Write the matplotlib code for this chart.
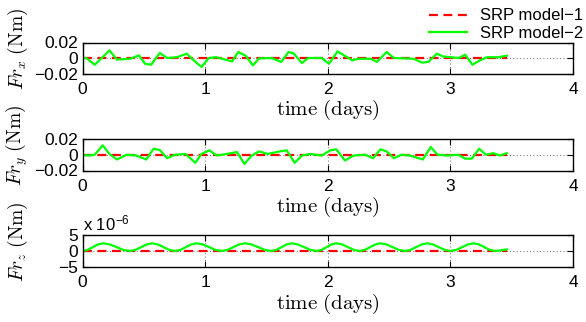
import matplotlib.pyplot as plt
import numpy as np

plt.rcParams['font.family'] = ['Liberation Sans', 'DejaVu Sans']
plt.rcParams['mathtext.fontset'] = 'cm'

# SRP torque components, time in days
t_x = [0.00, 0.03, 0.10, 0.22, 0.28, 0.39, 0.46, 0.51, 0.56, 0.63,
       0.69, 0.77, 0.85, 0.90, 0.97, 1.03, 1.09, 1.22, 1.27, 1.33,
       1.39, 1.44, 1.54, 1.62, 1.68, 1.72, 1.79, 1.84, 1.95, 2.01,
       2.08, 2.20, 2.25, 2.35, 2.40, 2.48, 2.54, 2.70, 2.77, 2.82,
       2.89, 2.94, 3.07, 3.12, 3.18, 3.24, 3.30, 3.39, 3.46]
frx_model2 = [0, 0, -0.0087, 0.0098, -0.002, -0.001, 0.0034, -0.0074, -0.0087, 0.0065,
              0, 0.001, 0.0056, -0.002, -0.0116, 0, 0.001, -0.0044, 0.0077, 0.003,
              -0.0095, -0.0005, 0, -0.005, 0.0077, 0.006, -0.0065, 0, 0, -0.0074,
              0.0085, -0.003, -0.001, -0.001, -0.005, 0.0077, 0, -0.001, -0.006, -0.005,
              0.0056, 0.002, 0, 0.0043, -0.0087, -0.003, 0.001, 0.001, 0.003]
frx_model1 = [0.0] * len(t_x)

t_y = [0.00, 0.05, 0.10, 0.165, 0.22, 0.28, 0.36, 0.44, 0.52, 0.58,
       0.63, 0.69, 0.755, 0.84, 0.92, 0.97, 1.035, 1.095, 1.175, 1.26,
       1.32, 1.38, 1.44, 1.51, 1.61, 1.665, 1.73, 1.79, 1.855, 1.95,
       2.02, 2.07, 2.14, 2.21, 2.305, 2.37, 2.43, 2.48, 2.54, 2.60,
       2.67, 2.775, 2.84, 2.895, 2.97, 3.065, 3.12, 3.175, 3.235, 3.29,
       3.35, 3.405, 3.46]
fry_model2 = [0, -0.001, 0, 0.012, 0.001, -0.006, 0, -0.001, -0.006, 0.0077,
              0.006, -0.0044, 0, 0.001, -0.0103, 0.001, 0.0056, -0.001, 0.001, 0.0034,
              -0.0116, -0.001, 0.0043, 0.001, 0.0043, 0.0056, -0.0103, -0.001, 0.001, -0.001,
              0.0056, 0.0069, -0.0073, -0.001, 0, -0.0044, 0.0069, 0.0043, -0.0044, 0,
              -0.001, -0.006, 0.0098, 0, -0.001, 0, -0.005, -0.005, 0.0077, 0,
              0.002, -0.001, 0.002]
fry_model1 = [0.0] * len(t_y)

# z component in units of 1e-6 Nm
t_z = [0.000, 0.042, 0.084, 0.126, 0.168, 0.223, 0.278, 0.332, 0.387,
       0.432, 0.478, 0.523, 0.568, 0.615, 0.662, 0.708, 0.755,
       0.799, 0.843, 0.886, 0.930, 0.981, 1.033, 1.084, 1.135,
       1.183, 1.230, 1.278, 1.325, 1.379, 1.433, 1.486, 1.540,
       1.581, 1.623, 1.664, 1.705, 1.756, 1.808, 1.859, 1.910,
       1.950, 1.990, 2.030, 2.070, 2.118, 2.165, 2.213, 2.260,
       2.303, 2.345, 2.388, 2.430, 2.480, 2.530, 2.580, 2.630,
       2.675, 2.720, 2.765, 2.810, 2.858, 2.905, 2.953, 3.000,
       3.048, 3.095, 3.143, 3.190, 3.234, 3.278, 3.321, 3.365,
       3.410, 3.460]
frz_model2 = [0.0, 0.35, 1.2, 2.05, 2.4, 2.05, 1.2, 0.35, 0.0,
              0.35, 1.2, 2.05, 2.4, 2.05, 1.2, 0.35, 0.0,
              0.35, 1.2, 2.05, 2.4, 2.05, 1.2, 0.35, 0.0,
              0.35, 1.2, 2.05, 2.4, 2.05, 1.2, 0.35, 0.0,
              0.35, 1.2, 2.05, 2.4, 2.05, 1.2, 0.35, 0.0,
              0.35, 1.2, 2.05, 2.4, 2.05, 1.2, 0.35, 0.0,
              0.35, 1.2, 2.05, 2.4, 2.05, 1.2, 0.35, 0.0,
              0.35, 1.2, 2.05, 2.4, 2.05, 1.2, 0.35, 0.0,
              0.35, 1.2, 2.05, 2.4, 2.05, 1.2, 0.35, 0.0,
              0.2, 0.5]
frz_model1 = [0.0] * len(t_z)

panels = [
    (t_x, frx_model1, frx_model2, r'$Fr_x\ \mathrm{(Nm)}$', [-0.02, 0, 0.02], ['\u22120.02', '0', '0.02']),
    (t_y, fry_model1, fry_model2, r'$Fr_y\ \mathrm{(Nm)}$', [-0.02, 0, 0.02], ['\u22120.02', '0', '0.02']),
    (t_z, frz_model1, frz_model2, r'$Fr_z\ \mathrm{(Nm)}$', [-5, 0, 5], ['\u22125', '0', '5']),
]
x_ticks = [0, 1, 2, 3, 4]

fig = plt.figure(figsize=(5.86, 3.22), dpi=100)
W, H = 586, 322
boxes = [(42.5, 73.5), (139.0, 170.5), (235.0, 267.0)]

for (t, m1, m2, ylab, yt, ytl), (top, bot) in zip(panels, boxes):
    ax = fig.add_axes([82.5 / W, 1 - bot / H, (573 - 82.5) / W, (bot - top) / H])
    ax.plot(t, m1, color='red', ls='--', lw=1.6, dashes=(4, 2.5), label='SRP model\u22121')
    ax.plot(t, m2, color='#00ff00', lw=1.6, label='SRP model\u22122')
    ax.set_xlim(0, 4)
    ax.set_ylim(yt[0], yt[-1])
    ax.set_xticks(x_ticks)
    ax.set_yticks(yt)
    ax.set_yticklabels(ytl)
    ax.tick_params(direction='in', length=4, width=0.8, labelsize=12.5,
                   top=True, right=True)
    ax.tick_params(axis='x', pad=6)
    ax.tick_params(axis='y', pad=3)
    ax.grid(True, ls=(0, (1, 3)), color='0.25', lw=0.6)
    for s in ax.spines.values():
        s.set_linewidth(1.0)
    ax.set_xlabel(r'$\mathrm{time\ (days)}$', fontsize=15, labelpad=1)
    ax.set_ylabel(ylab, fontsize=14)
    ax.yaxis.set_label_coords(-0.108, 0.78)

ax.text(0.0, 1.04, r'x 10$^{\mathregular{-6}}$', transform=ax.transAxes,
        fontsize=12, ha='left', va='bottom')

handles, labels = ax.get_legend_handles_labels()
fig.legend(handles, labels, loc='upper right', bbox_to_anchor=(1.016, 1.01),
           frameon=False, fontsize=12, handlelength=2.3, handletextpad=0.8,
           labelspacing=0.15, borderpad=0.2)

fig.savefig('out.png', dpi=100)
